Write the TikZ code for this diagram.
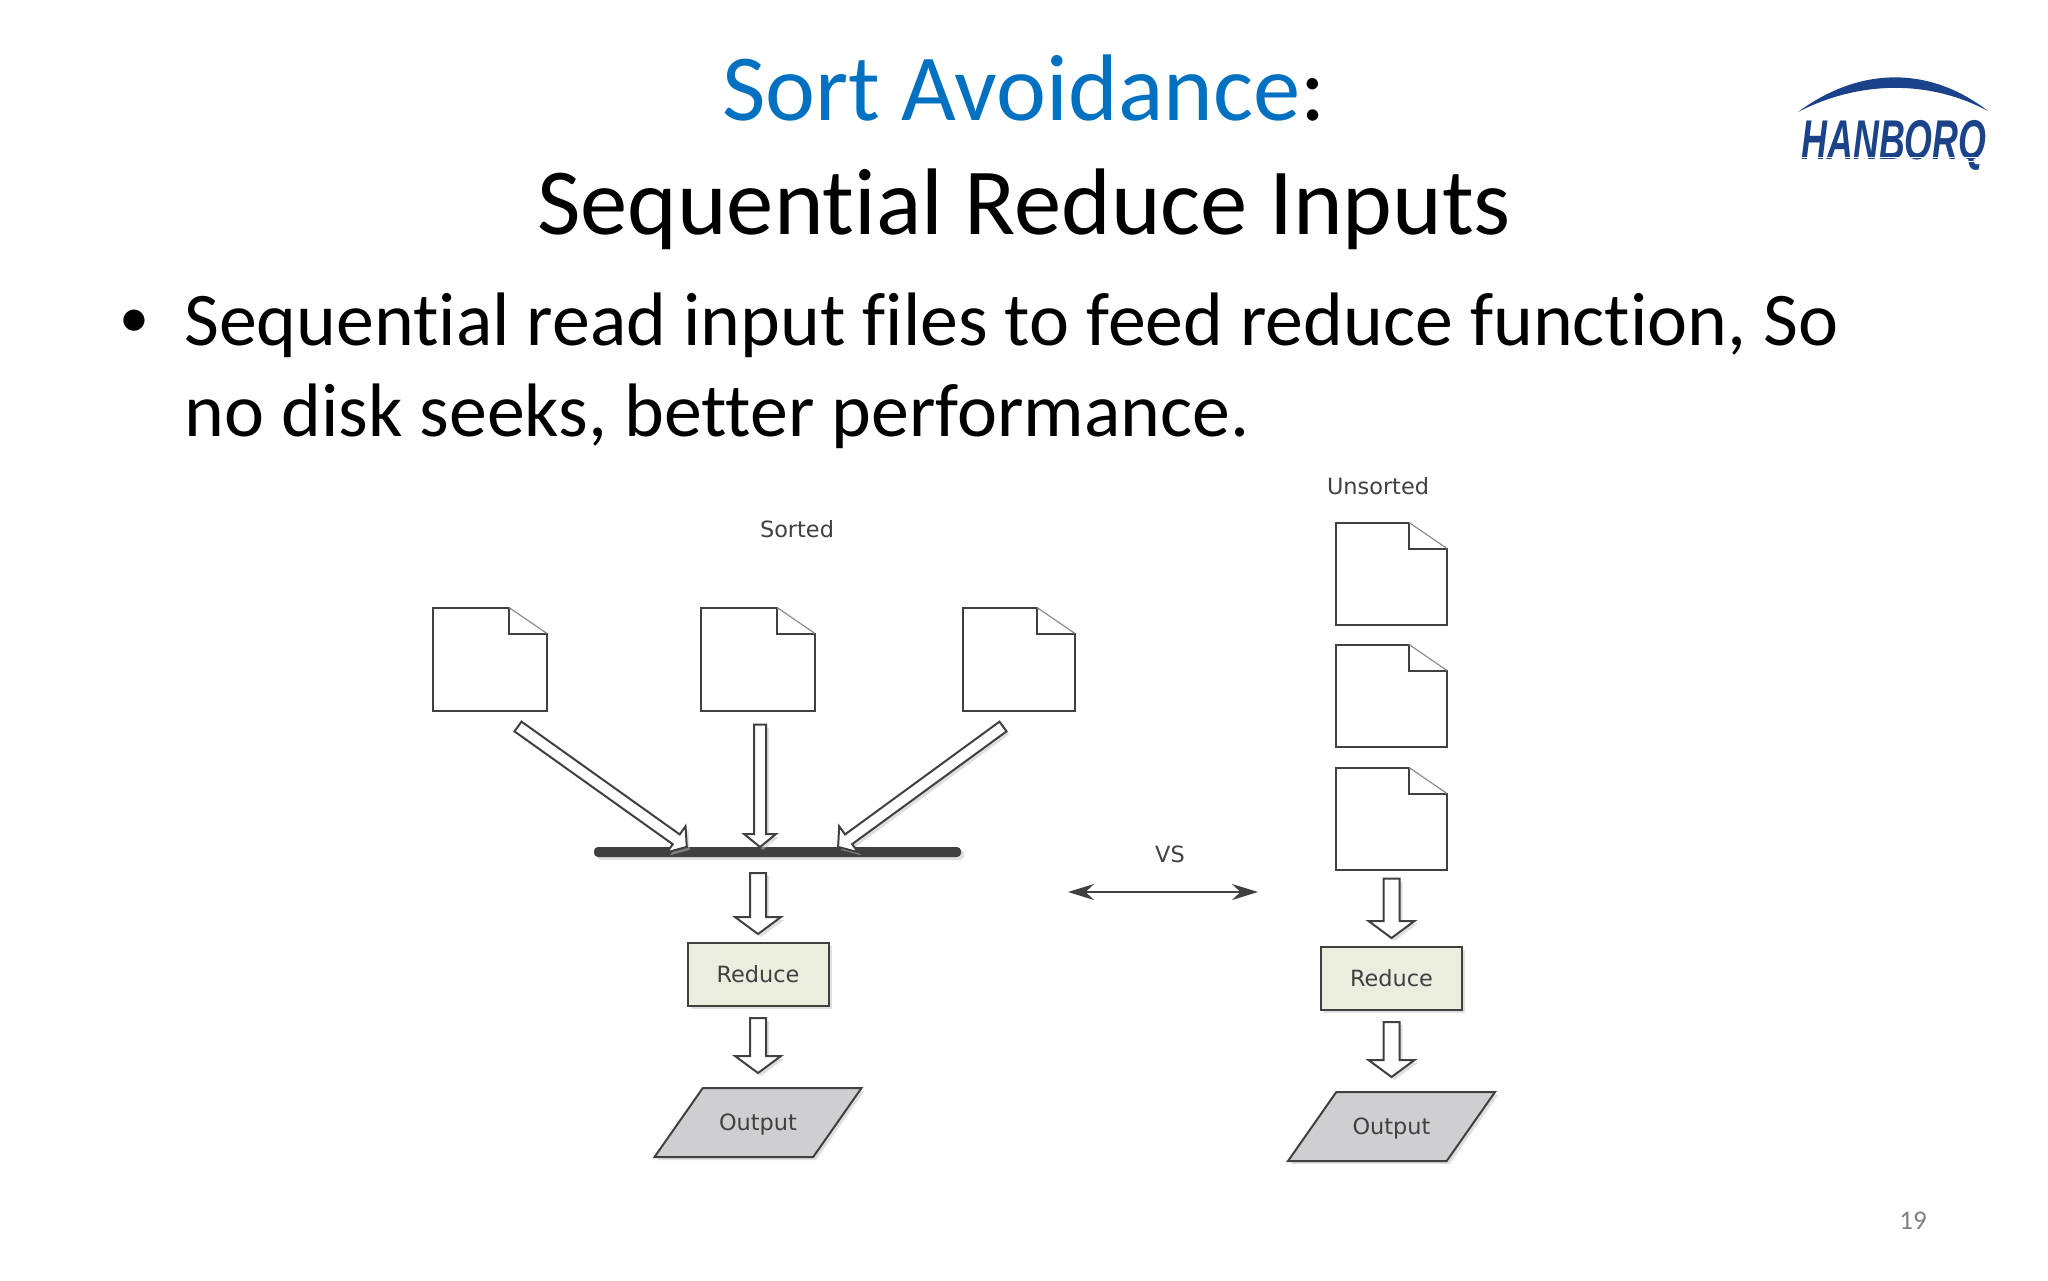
\documentclass[tikz,border=0pt]{standalone}
\usepackage{fontspec}
\setmainfont[Ligatures=NoCommon]{Carlito}
\newfontfamily\flowfont{DejaVu Sans}
\newfontfamily\logofont[BoldFeatures={FakeBold=1.5}]{Liberation Sans}
\usepackage{tikz}
\usetikzlibrary{shapes.geometric, arrows.meta, positioning, calc, shadows}
\definecolor{titleblue}{HTML}{0070C0}
\definecolor{logoblue}{HTML}{1B4389}
\definecolor{lineink}{HTML}{404040}
\definecolor{boxgreen}{HTML}{EBEEDF}
\definecolor{boxgray}{HTML}{CFCFD1}
\tikzset{
    softshadow/.style={drop shadow={shadow xshift=1.5pt, shadow yshift=-1.5pt, fill=black!25, opacity=0.5}},
    headline/.style={anchor=base, inner sep=0pt, font=\fontsize{47.3}{50}\selectfont},
    bodyline/.style={anchor=base west, inner sep=0pt, font=\fontsize{37.9}{42}\selectfont},
    flowlabel/.style={inner sep=0pt, text=lineink, font=\flowfont\fontsize{11.2}{13}\selectfont},
    docfile/.style={minimum width=#1, minimum height=51.5pt, inner sep=0pt, outer sep=0pt,
        append after command={\pgfextra{
            \draw [draw=lineink, line width=1pt, line join=miter]
                ([xshift=-19pt]\tikzlastnode.north east) -- (\tikzlastnode.north west) -- (\tikzlastnode.south west)
                -- (\tikzlastnode.south east) -- ([yshift=-13pt]\tikzlastnode.north east)
                -- ([xshift=-19pt,yshift=-13pt]\tikzlastnode.north east) -- cycle;
            \draw [draw=black!45, line width=0.6pt]
                ([xshift=-19pt]\tikzlastnode.north east) -- ([yshift=-13pt]\tikzlastnode.north east);
        }}},
    reducebox/.style={rectangle, draw=lineink, line width=1pt, fill=boxgreen, minimum width=70.5pt, minimum height=31.5pt,
        inner sep=0pt, outer sep=0pt, softshadow, text=lineink, font=\flowfont\fontsize{11.2}{13}\selectfont},
    outputbox/.style={trapezium, trapezium stretches body=true, trapezium left angle=55, trapezium right angle=125,
        draw=lineink, line width=1pt, fill=boxgray, minimum width=103.5pt, text height=21pt, text depth=13.5pt,
        inner sep=0pt, outer sep=0pt, softshadow, text=lineink, font=\flowfont\fontsize{11.2}{13}\selectfont},
    blockarrow/.style n args={3}{draw=lineink, line width=1pt, fill=white, line join=miter, softshadow,
        to path={let \p1=($(\tikztotarget)-(\tikztostart)$), \n1={atan2(\y1,\x1)}, \n2={veclen(\x1,\y1)} in
            [shift={(\tikztostart)}, rotate=\n1]
            (0pt,#1) -- (\n2-#3,#1) -- (\n2-#3,#2) -- (\n2,0pt) -- (\n2-#3,-#2) -- (\n2-#3,-#1) -- (0pt,-#1) -- cycle}},
    thinarrow/.style={blockarrow={3pt}{8pt}{6.5pt}},
    widearrow/.style={blockarrow={4pt}{11.5pt}{8.5pt}},
    vsarrow/.style={draw=lineink, line width=1pt, {Stealth[length=13pt, width=8pt]}-{Stealth[length=13pt, width=8pt]}}
}
\begin{document}
\begin{tikzpicture}[x=0.5pt, y=-0.5pt]
    \useasboundingbox (0,0) rectangle (2048,1280);
    % Heading
    \node (title) [headline] at (1024,120) {\textcolor{titleblue}{Sort Avoidance}:};
    \node (subtitle) [headline] at (1024,234) {Sequential Reduce Inputs};
    \node (bullet) [bodyline, font=\fontsize{30}{32}\selectfont] at (119,337) {•};
    \node (bodyone) [bodyline] at (184,345) {Sequential read input files to feed reduce function, So};
    \node (bodytwo) [bodyline] at (184,436) {no disk seeks, better performance.};
    % Logo
    \fill [logoblue] (1798,112) .. controls (1860,66) and (1930,66) .. (1988,111)
        .. controls (1930,80) and (1860,80) .. cycle;
    \node (logo) [inner sep=0pt, text=logoblue, xscale=0.64, transform shape, font=\logofont\bfseries\itshape\fontsize{28}{30}\selectfont] at (1894,145) {HANBORQ};
    \draw [white, line width=0.5pt] (1800,157) -- (1992,157);
    \draw [white, line width=0.5pt] (1800,161) -- (1992,161);
    % Sorted files
    \node (sorted) [flowlabel] at (797,529) {Sorted};
    \node (sortone) [docfile=57pt] at (490,659) {};
    \node (sorttwo) [docfile=57pt, right=77pt of sortone] {};
    \node (sortthree) [docfile=56pt, right=74pt of sorttwo] {};
    \node (mergebar) [rectangle, fill=lineink, rounded corners=2pt, minimum width=183.5pt, minimum height=5pt, inner sep=0pt, outer sep=0pt, softshadow] at (777.5,852) {};
    \node (reduceleft) [reducebox] at (758,974.5) {\raisebox{1pt}{Reduce}};
    \node (outputleft) [outputbox, below=41pt of reduceleft] {Output};
    % Unsorted files
    \node (unsorted) [flowlabel] at (1378,486) {Unsorted};
    \node (unsortone) [docfile=55.5pt, minimum height=51pt] at (1391.5,573.5) {};
    \node (unsorttwo) [docfile=55.5pt, minimum height=51pt, below=10pt of unsortone] {};
    \node (unsortthree) [docfile=55.5pt, minimum height=51pt, below=10.5pt of unsorttwo] {};
    \node (reduceright) [reducebox] at (1391.5,978.5) {\raisebox{1pt}{Reduce}};
    \node (outputright) [outputbox, below=41pt of reduceright] {Output};
    % Middle
    \node (versus) [flowlabel] at (1170,854) {VS};
    \coordinate (vsleft) at (1068,892);
    \coordinate (vsright) at (1258,892);
    % Arrows
    \draw [thinarrow] ([xshift=14pt,yshift=-8pt]sortone.south) to ([xshift=-45.25pt]mergebar.north);
    \draw [thinarrow] ([xshift=1pt,yshift=-7pt]sorttwo.south) to ([xshift=-8.75pt]mergebar.north);
    \draw [thinarrow] ([xshift=-8pt,yshift=-8pt]sortthree.south) to ([xshift=30.25pt]mergebar.north);
    \draw [widearrow] ([xshift=-9.75pt,yshift=-8pt]mergebar.south) to ([yshift=4.5pt]reduceleft.north);
    \draw [widearrow] ([yshift=-6pt]reduceleft.south) to ([yshift=7.5pt]outputleft.north);
    \draw [widearrow] ([yshift=-4.5pt]unsortthree.south) to ([yshift=4.5pt]reduceright.north);
    \draw [widearrow] ([yshift=-6pt]reduceright.south) to ([yshift=7.5pt]outputright.north);
    \draw [vsarrow] (vsleft) -- (vsright);
    % Page number
    \node (pagenum) [inner sep=0pt, text=black!50, font=\fontsize{13.5}{15}\selectfont] at (1913,1221) {19};
\end{tikzpicture}
\end{document}
